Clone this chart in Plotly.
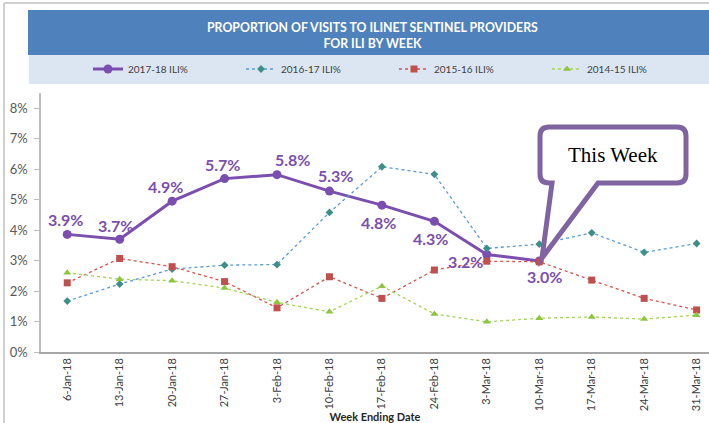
import plotly.graph_objects as go

weeks = ["6-Jan-18", "13-Jan-18", "20-Jan-18", "27-Jan-18", "3-Feb-18", "10-Feb-18",
         "17-Feb-18", "24-Feb-18", "3-Mar-18", "10-Mar-18", "17-Mar-18", "24-Mar-18", "31-Mar-18"]

ili_2017_18 = [3.86, 3.70, 4.95, 5.69, 5.82, 5.28, 4.82, 4.29, 3.20, 2.99]
ili_2016_17 = [1.67, 2.23, 2.72, 2.85, 2.87, 4.58, 6.08, 5.83, 3.40, 3.54, 3.91, 3.27, 3.56]
ili_2015_16 = [2.27, 3.07, 2.80, 2.31, 1.45, 2.47, 1.76, 2.69, 2.98, 2.96, 2.36, 1.76, 1.38]
ili_2014_15 = [2.60, 2.39, 2.34, 2.10, 1.63, 1.32, 2.16, 1.25, 0.99, 1.11, 1.15, 1.08, 1.21]

labels_2017_18 = ["3.9%", "3.7%", "4.9%", "5.7%", "5.8%", "5.3%", "4.8%", "4.3%", "3.2%", "3.0%"]
y_ticks = [0, 1, 2, 3, 4, 5, 6, 7, 8]
y_tick_text = ["0%", "1%", "2%", "3%", "4%", "5%", "6%", "7%", "8%"]

# label offsets (pixels) relative to each 2017-18 point
label_shift = [(-2, 15), (-4, 14), (-7, 15), (-2, 14), (15, 15), (6, 16),
               (-3, -17), (-4, -17), (-21, -7), (5, -16)]

W, H = 709, 423
ML, MR, MT, MB = 41, 0, 93, 71
PW, PH = W - ML - MR, H - MT - MB


def px(x):
    return (x - ML) / PW


def py(y):
    return (H - MB - y) / PH


PURPLE = "#7B4FB0"
fig = go.Figure()

fig.add_trace(go.Scatter(
    x=weeks[:len(ili_2017_18)], y=ili_2017_18, name="2017-18 ILI%", mode="lines+markers",
    line=dict(color=PURPLE, width=3), marker=dict(symbol="circle", size=9, color=PURPLE)))
fig.add_trace(go.Scatter(
    x=weeks, y=ili_2016_17, name="2016-17 ILI%", mode="lines+markers",
    line=dict(color="#5B9BD5", width=1.3, dash="dot"),
    marker=dict(symbol="diamond", size=6, color="#3E8E8A")))
fig.add_trace(go.Scatter(
    x=weeks, y=ili_2015_16, name="2015-16 ILI%", mode="lines+markers",
    line=dict(color="#D9534F", width=1.3, dash="dot"),
    marker=dict(symbol="square", size=7, color="#C0504D")))
fig.add_trace(go.Scatter(
    x=weeks, y=ili_2014_15, name="2014-15 ILI%", mode="lines+markers",
    line=dict(color="#A6D35A", width=1.3, dash="dot"),
    marker=dict(symbol="triangle-up", size=7, color="#8CC63F")))

for i, (w, v, t) in enumerate(zip(weeks, ili_2017_18, labels_2017_18)):
    dx, dy = label_shift[i]
    fig.add_annotation(x=w, y=v, text=t, showarrow=False, xshift=dx, yshift=dy,
                       xanchor="center", yanchor="middle",
                       font=dict(family="Lato", size=16, color=PURPLE, weight="bold"))

shapes = []
# outer frame
shapes.append(dict(type="line", xref="paper", yref="paper", x0=px(4), x1=px(4), y0=py(3), y1=py(423),
                   line=dict(color="#D0D0D0", width=2), layer="below"))
shapes.append(dict(type="line", xref="paper", yref="paper", x0=px(4), x1=px(709), y0=py(3), y1=py(3),
                   line=dict(color="#D0D0D0", width=2), layer="below"))
# title band
shapes.append(dict(type="rect", xref="paper", yref="paper", x0=px(28), x1=px(712), y0=py(55), y1=py(10),
                   fillcolor="#4F81BD", line=dict(width=0), layer="below"))
# legend band
shapes.append(dict(type="rect", xref="paper", yref="paper", x0=px(29), x1=px(712), y0=py(84), y1=py(55),
                   fillcolor="#DCE6F2", line=dict(width=0), layer="below"))

# callout
bx0, bx1, by0, by1, r = 540, 686, 127, 183, 9
tl, tr, tipx, tipy = 552, 598, 542, 258
pts = [
    ("M", bx0 + r, by0), ("L", bx1 - r, by0), ("Q", bx1, by0, bx1, by0 + r),
    ("L", bx1, by1 - r), ("Q", bx1, by1, bx1 - r, by1), ("L", tr, by1), ("L", tipx, tipy),
    ("L", tl, by1), ("L", bx0 + r, by1), ("Q", bx0, by1, bx0, by1 - r), ("L", bx0, by0 + r),
    ("Q", bx0, by0, bx0 + r, by0)]
path = ""
for p in pts:
    cmd = p[0]
    coords = p[1:]
    seg = cmd
    for j in range(0, len(coords), 2):
        seg += f" {px(coords[j]):.5f},{py(coords[j + 1]):.5f}"
    path += seg + " "
path += "Z"
shapes.append(dict(type="path", xref="paper", yref="paper", path=path, fillcolor="white",
                   line=dict(color="#8064A2", width=5)))

fig.update_layout(shapes=shapes)

fig.add_annotation(xref="paper", yref="paper", x=px(613), y=py(155), text="This Week",
                   xanchor="center", yanchor="middle",
                   showarrow=False, font=dict(family="Liberation Serif", size=21, color="black"))

fig.add_annotation(xref="paper", yref="paper", x=px(372), y=py(35),
                   text="PROPORTION OF VISITS TO ILINET SENTINEL PROVIDERS<br>FOR ILI BY WEEK",
                   showarrow=False, align="center", xanchor="center", yanchor="middle",
                   font=dict(family="Lato", size=12.3, color="white", weight="bold"))

fig.update_layout(
    width=W, height=H,
    margin=dict(l=ML, r=MR, t=MT, b=MB, pad=0),
    paper_bgcolor="white", plot_bgcolor="white",
    font=dict(family="Lato", color="#404040"),
    showlegend=True,
    legend=dict(orientation="h", x=px(88), xanchor="left", y=py(69), yanchor="middle",
                entrywidth=108, itemwidth=30, bgcolor="rgba(0,0,0,0)",
                font=dict(family="Lato", size=10, color="#404040"), tracegroupgap=0),
    xaxis=dict(type="category", range=[-0.5, (W - MR - ML) / 52.45 - 0.5], showgrid=False,
               showline=True, linecolor="#A6A6A6", linewidth=1.5, ticks="",
               tickangle=-90, tickfont=dict(family="Lato", size=11, color="#404040"),
               title=dict(text="<b>Week Ending Date</b>", font=dict(family="Lato", size=11, color="#262626"),
                          standoff=4),
               zeroline=False),
    yaxis=dict(range=[0, 8.5], tickvals=y_ticks, ticktext=y_tick_text, showgrid=False,
               showline=True, linecolor="#BFBFBF", linewidth=1.5, ticks="outside", ticklen=5,
               tickcolor="#BFBFBF", tickfont=dict(family="Lato", size=13, color="#595959"),
               ticklabelstandoff=4, zeroline=False),
)

fig.write_html("out.html", config={"displayModeBar": False},
               post_script="document.body.style.margin='0';document.body.style.overflow='hidden';")
